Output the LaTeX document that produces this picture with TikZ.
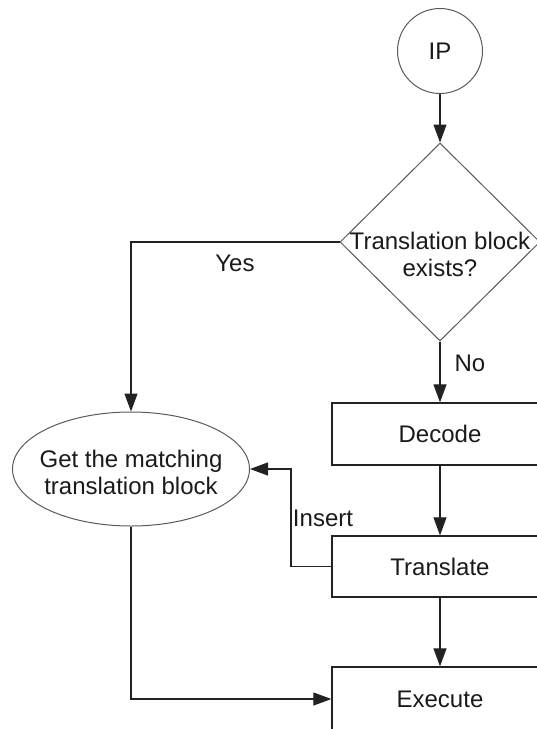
\documentclass[tikz,border=0pt]{standalone}
\usepackage{fontspec}
\setmainfont{Liberation Sans}
\usetikzlibrary{shapes.geometric,arrows.meta}
\definecolor{linec}{HTML}{222222}
\definecolor{shapec}{HTML}{5A5A5A}
\definecolor{textc}{HTML}{1A1A1A}
\begin{document}
\begin{tikzpicture}[x=1pt,y=-1pt,
  font=\fontsize{24}{27}\selectfont,
  conn/.style={draw=linec, line width=1.1pt, -{Triangle[length=18pt,width=13pt]}},
  procbox/.style={draw=linec, line width=1.3pt, rectangle, minimum width=216pt,
    minimum height=62pt, inner sep=0pt, text=textc},
  startc/.style={draw=shapec, line width=1pt, circle, minimum size=85pt, inner sep=0pt, text=textc},
  decshape/.style={draw=shapec, line width=1pt, diamond, minimum width=200pt,
    minimum height=198pt, inner sep=0pt},
  ellshape/.style={draw=shapec, line width=1pt, ellipse, minimum width=237pt,
    minimum height=114pt, inner sep=0pt},
  lbl/.style={text=textc, inner sep=0pt, align=center}]
\useasboundingbox (0,0) rectangle (537,729);
\clip (0,0) rectangle (537,729);
\fill[white] (0,0) rectangle (537,729);
% shapes
\node[startc] (ip) at (440,51) {IP};
\node[decshape] (dec) at (440,242) {};
\node[lbl] (dect) at (440,254) {Translation block\\exists?};
\node[ellshape] (get) at (131,469) {};
\node[lbl] (gett) at (131,472) {Get the matching\\translation block};
\node[procbox] (decode) at (440,434) {Decode};
\node[procbox, minimum height=61pt] (translate) at (440,566.5) {Translate};
\node[procbox, minimum height=64pt] (execute) at (440,699) {Execute};
% labels
\node[lbl] (yes) at (235,263) {Yes};
\node[lbl] (no) at (470,363) {No};
\node[lbl] (ins) at (323,518) {Insert};
% connectors
\coordinate (insbend) at (291,566.5);
\draw[conn] (ip.south) -- (dec.north);
\draw[conn] (dec.west) -| (get.north);
\draw[conn] (dec.south) -- (decode.north);
\draw[conn] (decode.south) -- (translate.north);
\draw[conn] (translate.south) -- (execute.north);
\draw[conn] (translate.west) -- (insbend) |- (get.east);
\draw[conn] (get.south) |- (execute.west);
\end{tikzpicture}
\end{document}
